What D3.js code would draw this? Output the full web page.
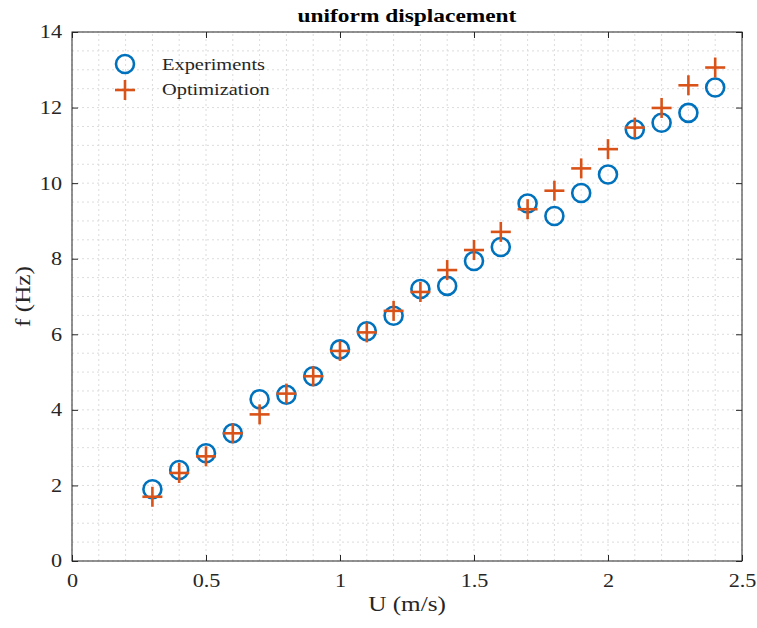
<!DOCTYPE html>
<html><head><meta charset="utf-8">
<script src="https://cdn.jsdelivr.net/npm/d3@7"></script>
<style>body{margin:0;background:#fff;} svg{display:block;}</style>
</head><body>
<script>
const uValues = [0.3,0.4,0.5,0.6,0.7,0.8,0.9,1.0,1.1,1.2,1.3,1.4,1.5,1.6,1.7,1.8,1.9,2.0,2.1,2.2,2.3,2.4];
const experiments = [1.90,2.41,2.85,3.38,4.28,4.40,4.89,5.60,6.08,6.49,7.20,7.28,7.94,8.31,9.46,9.13,9.74,10.23,11.42,11.60,11.86,12.53];
const optimization = [1.70,2.33,2.77,3.38,3.88,4.43,4.89,5.56,6.05,6.62,7.12,7.70,8.23,8.71,9.31,9.80,10.39,10.90,11.47,11.99,12.59,13.06];
const xTicks = [0,0.5,1,1.5,2,2.5];
const yTicks = [0,2,4,6,8,10,12,14];
const seriesNames = ["Experiments","Optimization"];

const W=757,H=628;
const m={l:72,r:15,t:32,b:67};
const SX=1.2; // horizontal stretch of the reference's text
const svg=d3.select("body").append("svg").attr("width",W).attr("height",H);
const x=d3.scaleLinear().domain([0,2.5]).range([m.l,W-m.r]);
const y=d3.scaleLinear().domain([0,14]).range([H-m.b,m.t]);
const font="'Liberation Serif','Times New Roman',serif";
const axCol="#262626";
const blue="#0072BD", orange="#D95319";

// grid
const g=svg.append("g");
const xMinor=d3.range(0,2.5001,0.1), yMinor=d3.range(0,14.001,0.5);
g.selectAll(".xm").data(xMinor).join("line")
  .attr("x1",d=>x(d)).attr("x2",d=>x(d)).attr("y1",y(0)).attr("y2",y(14))
  .attr("stroke","#dcdcdc").attr("stroke-width",1).attr("stroke-dasharray","2,3");
g.selectAll(".ym").data(yMinor).join("line")
  .attr("y1",d=>y(d)).attr("y2",d=>y(d)).attr("x1",x(0)).attr("x2",x(2.5))
  .attr("stroke","#dcdcdc").attr("stroke-width",1).attr("stroke-dasharray","2,3");

// axes
const tl=-6;
svg.append("g").attr("transform",`translate(0,${y(0)})`)
  .call(d3.axisBottom(x).tickValues(xTicks).tickSize(tl).tickPadding(13).tickFormat(d=>d))
  .call(a=>{a.select(".domain").remove(); a.selectAll(".tick text").attr("transform",`scale(${SX},1)`);});
svg.append("g").attr("transform",`translate(0,${y(14)})`)
  .call(d3.axisTop(x).tickValues(xTicks).tickSize(tl).tickFormat(""))
  .call(a=>{a.select(".domain").remove();});
svg.append("g").attr("transform",`translate(${x(0)},0)`)
  .call(d3.axisLeft(y).tickValues(yTicks).tickSize(tl).tickFormat(d=>d))
  .call(a=>{a.select(".domain").remove(); a.selectAll(".tick text").attr("x",-10/SX).attr("transform",`scale(${SX},1)`);});
svg.append("g").attr("transform",`translate(${x(2.5)},0)`)
  .call(d3.axisRight(y).tickValues(yTicks).tickSize(tl).tickFormat(""))
  .call(a=>{a.select(".domain").remove();});
svg.selectAll(".tick line").attr("stroke",axCol);
svg.selectAll(".tick text").attr("font-family",font).attr("font-size",18.5).attr("fill",axCol);
svg.append("rect").attr("x",x(0)).attr("y",y(14)).attr("width",x(2.5)-x(0)).attr("height",y(0)-y(14))
  .attr("fill","none").attr("stroke",axCol).attr("stroke-width",1);

// data
const pts=svg.append("g");
pts.selectAll("circle").data(uValues).join("circle")
  .attr("cx",(d)=>x(d)).attr("cy",(d,i)=>y(experiments[i])).attr("r",9)
  .attr("fill","none").attr("stroke",blue).attr("stroke-width",2.6);
const s=10;
const plus=pts.selectAll("g.p").data(uValues).join("g").attr("class","p")
  .attr("transform",(d,i)=>`translate(${x(d)},${y(optimization[i])})`);
plus.append("line").attr("x1",-s).attr("x2",s).attr("stroke",orange).attr("stroke-width",2.6);
plus.append("line").attr("y1",-s).attr("y2",s).attr("stroke",orange).attr("stroke-width",2.6);

// legend
const lg=svg.append("g");
lg.append("circle").attr("cx",125).attr("cy",64).attr("r",9).attr("fill","none").attr("stroke",blue).attr("stroke-width",2.6);
const lp=lg.append("g").attr("transform","translate(125,90)");
lp.append("line").attr("x1",-s).attr("x2",s).attr("stroke",orange).attr("stroke-width",2.6);
lp.append("line").attr("y1",-s).attr("y2",s).attr("stroke",orange).attr("stroke-width",2.6);
lg.selectAll("text").data(seriesNames).join("text")
  .attr("transform",(d,i)=>`translate(162,${64+i*25}) scale(${SX},1)`).attr("dy","0.35em")
  .attr("font-family",font).attr("font-size",17).attr("fill",axCol).text(d=>d);

// labels
svg.append("text").attr("transform",`translate(${(x(0)+x(2.5))/2},22) scale(${SX},1)`).attr("text-anchor","middle")
  .attr("font-family",font).attr("font-size",19.5).attr("font-weight","bold").attr("fill","#000").text("uniform displacement");
svg.append("text").attr("transform",`translate(${(x(0)+x(2.5))/2},611) scale(${SX},1)`).attr("text-anchor","middle")
  .attr("font-family",font).attr("font-size",21).attr("fill",axCol).text("U (m/s)");
svg.append("text").attr("transform",`translate(30,${(y(0)+y(14))/2}) rotate(-90) scale(${SX},1)`).attr("text-anchor","middle")
  .attr("font-family",font).attr("font-size",21).attr("fill",axCol).text("f (Hz)");
</script>
</body></html>
